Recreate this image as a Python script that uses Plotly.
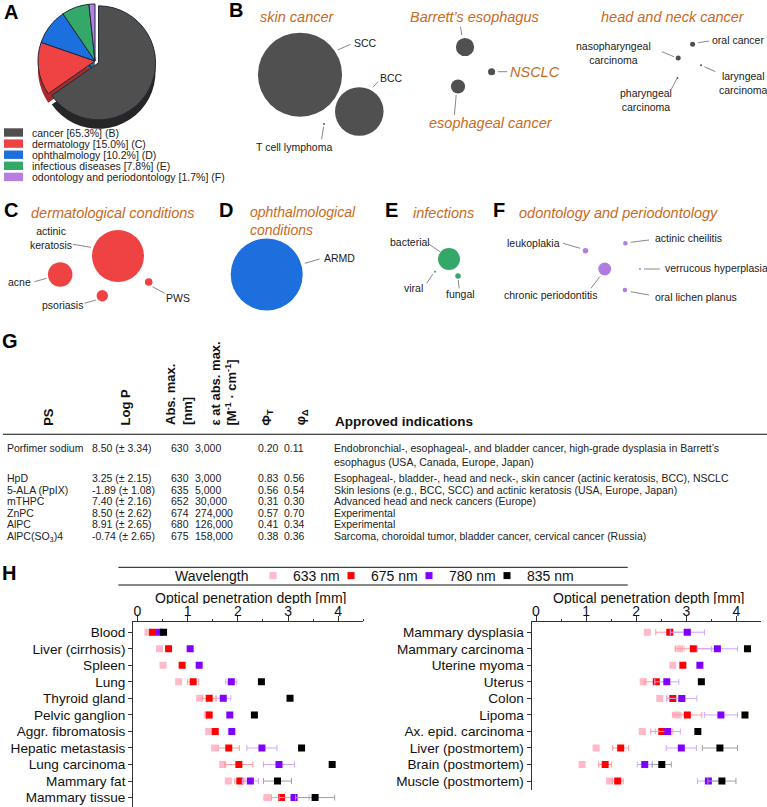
import plotly.graph_objects as go

W, H = 767, 807
FONT = "Liberation Sans, Arial, sans-serif"
ORANGE = "#C96A22"


def px(x):
    return x / W


def py(y):
    return 1 - y / H


# ---------------- Panel A data ----------------
pie_labels = ["cancer", "dermatology", "ophthalmology", "infectious diseases",
              "odontology and periodontology"]
pie_values = [65.3, 15.0, 10.2, 7.8, 1.7]
pie_panels = ["B", "C", "D", "E", "F"]
pie_colors = ["#4f4f4f", "#ef4343", "#1c6fdc", "#33a868", "#b57ee0"]
pie_side_colors = ["#262626", "#a82b2b", "#114a96", "#1e7445", "#7b55a0"]

# ---------------- Panels B-F data (relative frequency) ----------------
b_names = ["SCC", "BCC", "T cell lymphoma", "Barrett’s esophagus", "NSCLC",
           "esophageal cancer", "nasopharyngeal carcinoma", "oral cancer",
           "laryngeal carcinoma", "pharyngeal carcinoma"]
b_values = [980, 326, 0.3, 46, 7, 28, 3.5, 3.5, 0.15, 0.2]
c_names = ["actinic keratosis", "acne", "psoriasis", "PWS"]
c_values = [374, 83, 18, 8]
d_names = ["ARMD"]
d_values = [717]
e_names = ["bacterial", "viral", "fungal"]
e_values = [67, 0.3, 4.2]
f_names = ["chronic periodontitis", "leukoplakia", "actinic cheilitis",
           "verrucous hyperplasia", "oral lichen planus"]
f_values = [23, 4.2, 2.8, 0.15, 2.8]

# ---------------- Panel G data ----------------
ps_names = ["Porfimer sodium", "HpD", "5-ALA (PpIX)", "mTHPC", "ZnPC", "AlPC",
            "AlPC(SO<sub>3</sub>)4"]
log_p = ["8.50 (± 3.34)", "3.25 (± 2.15)", "-1.89 (± 1.08)", "7.40 (± 2.16)",
         "8.50 (± 2.62)", "8.91 (± 2.65)", "-0.74 (± 2.65)"]
abs_max = ["630", "630", "635", "652", "674", "680", "675"]
eps_max = ["3,000", "3,000", "5,000", "30,000", "274,000", "126,000", "158,000"]
phi_t = ["0.20", "0.83", "0.56", "0.31", "0.57", "0.41", "0.38"]
phi_d = ["0.11", "0.56", "0.54", "0.30", "0.70", "0.34", "0.36"]
indications = [
    "Endobronchial-, esophageal-, and bladder cancer, high-grade dysplasia in Barrett’s<br>"
    "esophagus (USA, Canada, Europe, Japan)",
    "Esophageal-, bladder-, head and neck-, skin cancer (actinic keratosis, BCC), NSCLC",
    "Skin lesions (e.g., BCC, SCC) and actinic keratosis (USA, Europe, Japan)",
    "Advanced head and neck cancers (Europe)",
    "Experimental",
    "Experimental",
    "Sarcoma, choroidal tumor, bladder cancer, cervical cancer (Russia)",
]
g_headers = ["PS", "Log P", "Abs. max.<br>[nm]",
             "ε at abs. max.<br>[M<sup>-1</sup> · cm<sup>-1</sup>]",
             "Φ<sub>T</sub>", "φ<sub>Δ</sub>"]

# ---------------- Panel H data ----------------
legend_title = "Wavelength"
axis_title = "Optical penetration depth [mm]"
wavelengths = ["633 nm", "675 nm", "780 nm", "835 nm"]
left_tissues = ["Blood", "Liver (cirrhosis)", "Spleen", "Lung", "Thyroid gland",
                "Pelvic ganglion", "Aggr. fibromatosis", "Hepatic metastasis",
                "Lung carcinoma", "Mammary fat", "Mammary tissue"]
left_633 = [0.21, 0.44, 0.51, 0.82, 1.24, 1.39, 1.42, 1.54, 1.70, 1.81, 2.59]
left_633_err = [0, 0, 0, 0, 0.05, 0, 0, 0.05, 0.05, 0.05, 0.08]
left_675 = [0.30, 0.62, 0.89, 1.11, 1.43, 1.43, 1.55, 1.82, 2.02, 2.04, 2.87]
left_675_err = [0, 0, 0, 0.11, 0.14, 0, 0, 0.21, 0.28, 0.10, 0.20]
left_780 = [0.44, 1.05, 1.23, 1.87, 1.71, 1.84, 1.88, 2.48, 2.82, 2.25, 3.12]
left_780_err = [0, 0, 0, 0.11, 0.15, 0, 0, 0.30, 0.31, 0.16, 0.30]
left_835 = [0.52, None, None, 2.47, 3.04, 2.33, None, 3.27, 3.88, 2.79, 3.54]
left_835_err = [0, 0, 0, 0, 0, 0, 0, 0, 0, 0.28, 0.39]

right_tissues = ["Mammary dysplasia", "Mammary carcinoma", "Uterine myoma", "Uterus",
                 "Colon", "Lipoma", "Ax. epid. carcinoma", "Liver (postmortem)",
                 "Brain (postmortem)", "Muscle (postmortem)"]
right_633 = [2.22, 2.87, 2.73, 2.14, 2.47, 2.82, 2.12, 1.20, 0.92, 1.47]
right_633_err = [0, 0.09, 0, 0.05, 0.05, 0.08, 0, 0, 0, 0.05]
right_675 = [2.67, 3.14, 2.93, 2.40, 2.73, 3.02, 2.51, 1.69, 1.38, 1.63]
right_675_err = [0.28, 0.36, 0, 0.23, 0.12, 0.29, 0.22, 0.16, 0.13, 0.11]
right_780 = [3.02, 3.62, 3.27, 2.61, 2.91, 3.69, 2.63, 2.90, 2.17, 3.44]
right_780_err = [0.34, 0.40, 0, 0.24, 0.30, 0.33, 0.25, 0.30, 0.15, 0.22]
right_835 = [None, 4.22, None, 3.30, None, 4.17, 3.23, 3.67, 2.51, 3.71]
right_835_err = [0, 0, 0, 0, 0, 0, 0, 0.35, 0.19, 0.28]

wl_colors = ["#ffb9c8", "#ff0000", "#8000ff", "#000000"]
wl_err_colors = ["#ffc8d4", "#ff9a9a", "#cfa6ff", "#a0a0a0"]

# ---------------- layout helpers (positions in page pixels) ----------------
b_pos = [(300, 74.7), (359.3, 111.5), (324, 124), (465, 47), (491.6, 71.7),
         (458, 86.5), (678.2, 58), (692.6, 44.3), (701, 65.3), (677.5, 78)]
c_pos = [(118, 256), (60.2, 274.5), (102.3, 295.7), (148.7, 282)]
d_pos = [(266.7, 274.5)]
e_pos = [(449, 259), (435, 271.7), (458, 276)]
f_pos = [(604.7, 269), (585.5, 250.7), (625.4, 243.3), (640, 269), (624.9, 290)]

# label: (x, y, xanchor, style, leader line)
b_lab = [(352, 42.7, "left", "k", (337.7, 50, 350.5, 44.3)),
         (378, 77.7, "left", "k", (372.9, 87.3, 378, 81.7)),
         (293.7, 146.7, "center", "k", (323.6, 126.7, 321.6, 139.3)),
         (474, 16.7, "center", "o", (460.6, 26.7, 461.7, 35)),
         (508, 71.7, "left", "o", (497.8, 71.7, 507.1, 71.7)),
         (491.3, 123.3, "center", "o", (456.2, 95, 454.4, 115)),
         (613, 53, "center", "k", (662, 51.7, 674, 56.7)),
         (710, 40, "left", "k", (698.2, 42.7, 709.2, 41)),
         (743, 83, "center", "k", (704.4, 66.7, 715.4, 71.7)),
         (645.8, 99.5, "center", "k", (676.8, 78.7, 671.3, 89.3))]
c_lab = [(51, 237.5, "center", "k", (72.8, 244.3, 91, 247.3)),
         (19.7, 282.3, "center", "k", (34.4, 281.7, 46.7, 278.3)),
         (62.4, 305, "center", "k", (84.6, 303.3, 95.9, 300)),
         (178, 298.3, "center", "k", (152.4, 286.7, 164.7, 293.3))]
d_lab = [(322, 258.3, "left", "k", (304.8, 263.3, 319.6, 259))]
e_lab = [(409.5, 241.7, "center", "k", (429.2, 244.3, 440, 251.7)),
         (413, 287.7, "center", "k", (432.6, 274.3, 426.7, 283.3)),
         (460.7, 294.3, "center", "k", (458.2, 280, 459.2, 288.3))]
f_lab = [(550.6, 295, "center", "k", (599.8, 276.7, 591, 288.3)),
         (533.4, 242.7, "center", "k", (563, 243.3, 580.1, 248.3)),
         (653, 238.3, "left", "k", (630.8, 242.3, 649, 240)),
         (662.7, 268.3, "left", "k", (644, 269, 659.8, 269)),
         (653, 297.3, "left", "k", (630.8, 291.7, 649, 295))]
wrap = {"nasopharyngeal carcinoma", "laryngeal carcinoma", "pharyngeal carcinoma",
        "actinic keratosis"}

fig = go.Figure()
annotations = []
shapes = []

# ---------------- Panel A: pie ----------------
pull = [0.07, 0, 0, 0, 0]
fig.add_trace(go.Pie(values=pie_values, labels=pie_labels, sort=False,
                     direction="clockwise", rotation=0, pull=pull,
                     marker=dict(colors=pie_side_colors, line=dict(width=0)),
                     textinfo="none", hoverinfo="skip", showlegend=False,
                     domain=dict(x=[px(30), px(160)], y=[py(131), py(9)])))
fig.add_trace(go.Pie(values=pie_values, labels=pie_labels, sort=False,
                     direction="clockwise", rotation=0, pull=pull,
                     marker=dict(colors=pie_colors, line=dict(color="#1e2a3a", width=1)),
                     textinfo="none", hoverinfo="skip", showlegend=False,
                     domain=dict(x=[px(30), px(160)], y=[py(122), py(0)])))

for i, (lab, val, pan, col) in enumerate(zip(pie_labels, pie_values, pie_panels, pie_colors)):
    yc = 132.5 + i * 11.1
    shapes.append(dict(type="rect", xref="paper", yref="paper", x0=px(4), x1=px(23),
                       y0=py(yc - 4.2), y1=py(yc + 4.2), fillcolor=col,
                       line=dict(width=0), layer="above"))
    annotations.append(dict(x=px(30), y=py(yc), xref="paper", yref="paper",
                            xanchor="left", yanchor="middle", showarrow=False,
                            text=f"{lab} [{val:.1f}%] ({pan})",
                            font=dict(size=10.5, color="#222")))

# ---------------- Panels B-F: bubbles ----------------
SREF = 0.2768
groups = [(b_names, b_values, b_pos, b_lab, "#505050"),
          (c_names, c_values, c_pos, c_lab, "#ef4343"),
          (d_names, d_values, d_pos, d_lab, "#1c6fdc"),
          (e_names, e_values, e_pos, e_lab, "#33a868"),
          (f_names, f_values, f_pos, f_lab, "#b07ce0")]
for names, vals, pos, labs, col in groups:
    fig.add_trace(go.Scatter(x=[p[0] for p in pos], y=[p[1] for p in pos],
                             mode="markers", xaxis="x3", yaxis="y3",
                             marker=dict(size=vals, sizemode="area", sizeref=SREF,
                                         sizemin=1, color=col, opacity=1,
                                         line=dict(width=0)),
                             hoverinfo="text", text=names, showlegend=False))
    for name, (lx, ly, anc, style, ln) in zip(names, labs):
        txt = name.replace(" ", "<br>", 1) if name in wrap else name
        if style == "o":
            fnt = dict(size=14.5, color=ORANGE)
            txt = f"<i>{txt}</i>"
        else:
            fnt = dict(size=10.5, color="#1a1a1a")
        annotations.append(dict(x=lx, y=ly, xref="x3", yref="y3", xanchor=anc,
                                yanchor="middle", showarrow=False, text=txt, font=fnt))
        shapes.append(dict(type="line", xref="x3", yref="y3", x0=ln[0], y0=ln[1],
                           x1=ln[2], y1=ln[3], line=dict(color="#6a6a6a", width=0.8)))

titles = [("skin cancer", 297, 16.7, "center"),
          ("head and neck cancer", 673.4, 16.7, "center"),
          ("dermatological conditions", 113.3, 213.3, "center"),
          ("ophthalmological<br>conditions", 248, 221, "left"),
          ("infections", 443, 213, "center"),
          ("odontology and periodontology", 618, 213, "center")]
for t, x, y, anc in titles:
    annotations.append(dict(x=x, y=y, xref="x3", yref="y3", xanchor=anc, yanchor="middle",
                            showarrow=False, text=f"<i>{t}</i>", align="left",
                            font=dict(size=14.5 if "<br>" not in t else 14, color=ORANGE)))

letters = [("A", 11, 11.5), ("B", 236, 10), ("C", 11, 210), ("D", 226, 210),
           ("E", 391, 210), ("F", 499, 210), ("G", 10, 341), ("H", 8.5, 573)]
for t, x, y in letters:
    annotations.append(dict(x=x, y=y, xref="x3", yref="y3", xanchor="center",
                            yanchor="middle", showarrow=False, text=f"<b>{t}</b>",
                            font=dict(size=20, color="#000")))

# ---------------- Panel G: table ----------------
hdr_x = [48.3, 125, 179, 223, 266.7, 301.7]
for h, x in zip(g_headers, hdr_x):
    annotations.append(dict(x=x, y=427.5, xref="x3", yref="y3", xanchor="center",
                            yanchor="bottom", showarrow=False, textangle=-90,
                            align="left", text=f"<b>{h}</b>",
                            font=dict(size=13, color="#111")))
annotations.append(dict(x=332.7, y=421, xref="x3", yref="y3", xanchor="left",
                        yanchor="middle", showarrow=False,
                        text="<b>Approved indications</b>",
                        font=dict(size=13.5, color="#111")))
shapes.append(dict(type="line", xref="x3", yref="y3", x0=3, x1=767, y0=434.3, y1=434.3,
                   line=dict(color="#111", width=1.1)))

col_x = [5, 89.7, 168.5, 193.3, 255.7, 281.7, 331.7]
row_y = [446.7, 476.7, 488.3, 500, 511.6, 523, 534.5]
columns = [ps_names, log_p, abs_max, eps_max, phi_t, phi_d, indications]
for cx, colvals in zip(col_x, columns):
    for ry, v in zip(row_y, colvals):
        annotations.append(dict(x=cx, y=ry - 6.8, xref="x3", yref="y3", xanchor="left",
                                yanchor="top", showarrow=False, align="left", text=v,
                                font=dict(size=10.5, color="#222")))

# ---------------- Panel H ----------------
left_series = [(left_633, left_633_err), (left_675, left_675_err),
               (left_780, left_780_err), (left_835, left_835_err)]
right_series = [(right_633, right_633_err), (right_675, right_675_err),
                (right_780, right_780_err), (right_835, right_835_err)]
for k, name in enumerate(wavelengths):
    for side, (vals, errs), cats in [("L", left_series[k], left_tissues),
                                     ("R", right_series[k], right_tissues)]:
        fig.add_trace(go.Scatter(
            x=vals, y=cats, mode="markers", name=name,
            xaxis="x" if side == "L" else "x2", yaxis="y" if side == "L" else "y2",
            showlegend=(side == "L"), legendgroup=name,
            legendwidth=33 if k < 3 else 60,
            marker=dict(symbol="square", size=7, color=wl_colors[k],
                        line=dict(width=0)),
            error_x=dict(type="data", array=errs, visible=True,
                         color=wl_err_colors[k], thickness=1, width=3),
        ))

annotations.append(dict(x=px(173), y=py(575.5), xref="paper", yref="paper",
                        xanchor="left", yanchor="middle", showarrow=False,
                        text=legend_title, font=dict(size=14, color="#111")))
for cx in (250, 648.5):
    annotations.append(dict(x=px(cx), y=py(597), xref="paper", yref="paper",
                            xanchor="center", yanchor="middle", showarrow=False,
                            height=13, valign="middle",
                            text=axis_title, font=dict(size=14, color="#111")))
shapes.append(dict(type="line", xref="paper", yref="paper", x0=px(118.3), x1=px(627.7),
                   y0=py(567.3), y1=py(567.3), line=dict(color="#111", width=1)))
shapes.append(dict(type="line", xref="paper", yref="paper", x0=px(118.3), x1=px(627.7),
                   y0=py(585), y1=py(585), line=dict(color="#111", width=1)))

axis_common = dict(showline=True, linecolor="#333", linewidth=1.3, ticks="outside",
                   tickcolor="#333", tickwidth=1.2, showgrid=False, zeroline=False)
xaxis_common = dict(axis_common, side="top", dtick=1, tick0=0, ticklen=5,
                    ticklabelstandoff=-5,
                    tickfont=dict(size=14, color="#111"),
                    minor=dict(dtick=0.5, ticklen=2.5, ticks="outside", tickcolor="#333"))
yaxis_common = dict(axis_common, type="category", ticklen=4, categoryorder="array",
                    tickmode="linear", dtick=1, tick0=0,
                    tickfont=dict(size=13.6, color="#111"))

fig.update_layout(
    width=W, height=H, margin=dict(l=0, r=0, t=0, b=0),
    paper_bgcolor="white", plot_bgcolor="rgba(0,0,0,0)",
    font=dict(family=FONT, color="#111", size=12),
    showlegend=True,
    legend=dict(orientation="h", x=px(253), xanchor="left", y=py(576),
                yanchor="middle", font=dict(size=14),
                bgcolor="rgba(0,0,0,0)", borderwidth=0, tracegroupgap=0),
    xaxis=dict(xaxis_common, domain=[px(133.3), px(363.3)], range=[-0.083, 4.5],
               anchor="y"),
    yaxis=dict(yaxis_common, domain=[0, py(622.3)], range=[10.57, -0.6],
               categoryarray=left_tissues, anchor="x"),
    xaxis2=dict(xaxis_common, domain=[px(531.7), px(761)], range=[-0.086, 4.49],
                anchor="y2"),
    yaxis2=dict(yaxis_common, domain=[py(790), py(622.3)], range=[9.54, -0.6],
                categoryarray=right_tissues, anchor="x2"),
    xaxis3=dict(domain=[0, 1], range=[0, W], visible=False, anchor="y3"),
    yaxis3=dict(domain=[0, 1], range=[H, 0], visible=False, anchor="x3"),
    annotations=annotations, shapes=shapes,
)

fig.write_html("out.html", config={"displayModeBar": False},
               post_script="document.body.style.margin='0px';"
                           "document.body.style.padding='0px';"
                           "document.body.style.overflow='hidden';")
